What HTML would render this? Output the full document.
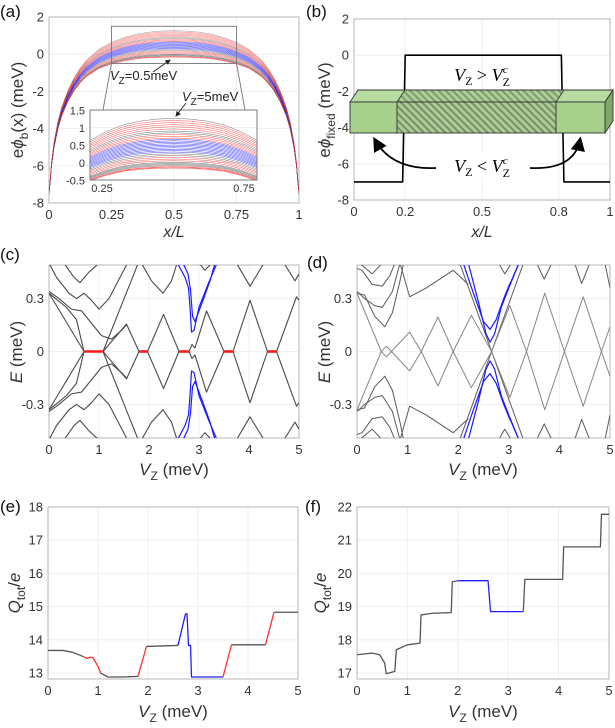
<!DOCTYPE html>
<html><head><meta charset="utf-8"><style>
html,body{margin:0;padding:0;background:#fff;}
svg{display:block;font-family:"Liberation Sans",sans-serif;}
</style></head><body>
<svg id="fig" width="615" height="728" viewBox="0 0 615 728" xmlns="http://www.w3.org/2000/svg">
<defs>
<pattern id="hatch" width="5" height="5" patternUnits="userSpaceOnUse" patternTransform="rotate(-45)">
<rect width="5" height="5" fill="#a9cf8e"/><rect width="2" height="5" fill="#7d8a73"/>
</pattern>
<clipPath id="clipA"><rect x="49" y="17" width="250" height="186"/></clipPath>
<clipPath id="clipIn"><rect x="90" y="110" width="167" height="70"/></clipPath>
<clipPath id="clipC"><rect x="49" y="265" width="250" height="173"/></clipPath>
<clipPath id="clipD"><rect x="357" y="265" width="253" height="173"/></clipPath>
<marker id="arrowhead" markerWidth="8" markerHeight="8" refX="6" refY="4" orient="auto"><path d="M0,0 L8,4 L0,8 z" fill="#000"/></marker>
<marker id="arrowsm" markerWidth="6" markerHeight="6" refX="5" refY="3" orient="auto"><path d="M0,0 L6,3 L0,6 z" fill="#222"/></marker>
</defs>
</svg>
<script>
// ---------- panel (a) data ----------
const phiX = [0,0.005,0.01,0.02,0.035,0.05,0.075,0.1,0.125,0.15,0.2,0.25,0.3,0.35,0.4,0.45,0.5];
const phiBase = [-7.5,-6.8,-6.0,-5.0,-4.0,-3.3,-2.5,-1.9,-1.45,-1.1,-0.65,-0.39,-0.22,-0.1,-0.04,-0.01,0];
const phiCenters = [1.26,1.2,1.14,1.08,1.02,0.96,0.9,0.85,0.8,0.75,0.7,0.66,0.62,0.58,0.54,0.5,0.46,0.42,0.38,0.34,0.3,0.25,0.2,0.15,0.1,0.05,0.0,-0.03,-0.06,-0.09,-0.12,-0.14,-0.16];
const phiColors = ['g','r','r','r','r','r','g','g','r','r','r','b','b','b','b','b','b','b','b','b','b','g','g','r','r','r','g','g','g','g','r','r','r'];
// ---------- panel (b) data ----------
const fixedX = [0,0.19,0.2,0.81,0.82,1];
const fixedY = [-7,-7,0,0,-7,-7];
// ---------- panel (c) data ----------
const cOsc = [[0,0.33],[0.35,0.25],[0.55,0.18],[0.7,0],[1.08,0],[1.55,0.155],[1.8,0],[1.97,0],[2.29,0.21],[2.6,0],[2.8,0],[2.86,0.04],[2.92,0.02],[3.15,0.23],[3.5,0],[3.68,0],[4.02,0.29],[4.37,0],[4.55,0],[4.95,0.31],[5,0.29]];
const cBands = [
 [[0,0.5],[0.15,0.42],[0.4,0.33],[0.55,0.3],[0.7,0.33],[0.85,0.29],[1.0,0.24],[1.2,0.3],[1.55,0.49]],
 [[0,0.34],[0.2,0.3],[0.45,0.24],[0.65,0.23],[0.85,0.16],[1.05,0.09],[1.25,0.07],[1.45,0.12],[1.55,0.15]],
 [[0.3,0.5],[0.5,0.42],[0.62,0.39],[0.8,0.45],[1.0,0.5]],
 [[1.08,0],[1.77,0.49]],
 [[0,-0.33],[0.7,0]],
 [[1.85,0.5],[2.05,0.4],[2.28,0.33],[2.45,0.4],[2.55,0.49]],
 [[3.0,0.5],[3.12,0.46],[3.25,0.5]],
 [[3.75,0.5],[4.02,0.37],[4.3,0.5]],
 [[4.7,0.5],[4.92,0.4],[5,0.44]]
];
const cBlue = [
 [[2.57,0.5],[2.72,0.42],[2.79,0.36],[2.82,0.25],[2.85,0.11],[2.9,0.12],[3.0,0.25],[3.18,0.38],[3.36,0.5]],
 [[2.68,0.5],[2.78,0.44],[2.83,0.35],[2.87,0.2],[2.92,0.17],[3.08,0.29],[3.22,0.4],[3.32,0.5]]
];
const cRedStart = [0.68,1.8,2.6,3.5,4.37];
const cRedEnd = [1.08,1.97,2.8,3.68,4.55];
// ---------- panel (d) data ----------
const dOsc = [[0,0.33],[0.48,0],[0.58,0.03],[0.68,0],[1.04,0.11],[1.27,0],[1.6,0.195],[1.9,0],[2.26,0.205],[2.66,0],[3.02,0.26],[3.35,0],[3.71,0.33],[4.1,0],[4.47,0.31],[4.83,0],[5,0.14]];
const dBands = [
 [[0,0.47],[0.1,0.46],[0.3,0.38],[0.5,0.37],[0.65,0.43],[0.75,0.5]],
 [[0,0.34],[0.15,0.3],[0.35,0.26],[0.5,0.25],[0.7,0.34],[0.85,0.5]],
 [[0,0.33],[0.15,0.32],[0.35,0.2],[0.55,0.14],[0.7,0.22],[0.85,0.4],[0.92,0.5]],
 [[0.05,0.5],[0.3,0.44],[0.5,0.5]],
 [[0.85,0.5],[1.04,0.31],[1.37,0.36],[1.9,0.46],[2.2,0.38]],
 [[2.03,0.5],[2.66,0],[3.29,-0.5]],
 [[2.8,0.5],[2.92,0.44],[3.05,0.5]],
 [[3.55,0.5],[3.7,0.41],[3.85,0.5]],
 [[4.3,0.5],[4.44,0.385],[4.6,0.5]],
 [[4.9,0.5],[5,0.36]]
];
const dBlue = [
 [[2.1,0.5],[2.3,0.33],[2.5,0.17],[2.63,0.125],[2.75,0.18],[2.9,0.3],[3.0,0.37],[3.05,0.4],[3.2,0.5]],
 [[2.2,0.5],[2.4,0.28],[2.55,0.1],[2.63,0.053],[2.72,0.1],[2.85,0.25],[3.0,0.36],[3.2,0.5]]
];
// ---------- panel (e) data ----------
const eSegColors = ['g','r','g','r','g','b','r','g','r','g'];
const eSegs = [
 [[0,13.68],[0.3,13.68],[0.5,13.62],[0.7,13.5]],
 [[0.7,13.5],[0.78,13.44],[0.85,13.48],[0.9,13.46],[1.0,13.2],[1.05,13.0]],
 [[1.05,13.0],[1.2,12.88],[1.5,12.88],[1.8,12.9]],
 [[1.8,12.9],[1.97,13.8]],
 [[1.97,13.8],[2.6,13.83]],
 [[2.6,13.83],[2.75,14.78],[2.78,14.78],[2.81,13.83],[2.85,13.83],[2.87,12.88],[3.5,12.88]],
 [[3.5,12.88],[3.67,13.85]],
 [[3.67,13.85],[4.35,13.85]],
 [[4.35,13.85],[4.52,14.83]],
 [[4.52,14.83],[5,14.83]]
];
// ---------- panel (f) data ----------
const fSegColors = ['g','b','g'];
const fSegs = [
 [[0,17.55],[0.3,17.6],[0.45,17.55],[0.55,17.3],[0.58,16.98],[0.75,17.05],[0.78,17.7],[1.0,17.85],[1.25,17.9],[1.27,18.75],[1.5,18.8],[1.87,18.82],[1.89,19.75],[2.0,19.78]],
 [[2.0,19.78],[2.6,19.78],[2.65,18.85],[3.3,18.85]],
 [[3.3,18.85],[3.33,19.82],[4.08,19.82],[4.1,20.8],[4.83,20.8],[4.85,21.78],[5,21.78]]
];
const xTicksA = [0,0.25,0.5,0.75,1], xTickLabA = ['0','0.25','0.5','0.75','1'];
const yTicksA = [2,0,-2,-4,-6,-8];
const xTicksB = [0,0.2,0.5,0.8,1], xTickLabB = ['0','0.2','0.5','0.8','1'];
const xTicksV = [0,1,2,3,4,5];
const yTicksE = [-0.3,0,0.3], yTickLabE = ['-0.3','0','0.3'];
const yTicksQe = [13,14,15,16,17,18];
const yTicksQf = [17,18,19,20,21,22];

const NS='http://www.w3.org/2000/svg';
const svg=document.getElementById('fig');
const COL={g:'#555555',r:'#ff3030',b:'#2020ff'};
function el(tag,attrs,parent){const e=document.createElementNS(NS,tag);for(const k in attrs)e.setAttribute(k,attrs[k]);(parent||svg).appendChild(e);return e;}
function scale(d0,d1,p0,p1){return v=>p0+(v-d0)/(d1-d0)*(p1-p0);}
function pathD(pts,sx,sy){return pts.map((p,i)=>(i?'L':'M')+sx(p[0]).toFixed(2)+','+sy(p[1]).toFixed(2)).join(' ');}

function axes(o){
  const sx=scale(o.xmin,o.xmax,o.x0,o.x1), sy=scale(o.ymin,o.ymax,o.y1,o.y0);
  const g=el('g',{});
  
  
  o.xt.forEach((t,i)=>{
    const gl=el('line',{x1:sx(t),x2:sx(t),y1:o.y0,y2:o.y1,stroke:'#ebebeb','stroke-width':0.8},g);
    
    
    const tx=el('text',{x:sx(t),y:o.y1+16,'text-anchor':'middle','font-size':13,fill:'#333'},g);
    
    
    tx.textContent=o.xl[i];
  });
  o.yt.forEach((t,i)=>{
    const gl=el('line',{x1:o.x0,x2:o.x1,y1:sy(t),y2:sy(t),stroke:'#ebebeb','stroke-width':0.8},g);
    
    
    const tx=el('text',{x:o.x0-5,y:sy(t)+4.5,'text-anchor':'end','font-size':13,fill:'#333'},g);
    
    
    tx.textContent=o.yl[i];
  });
  const box=el('rect',{x:o.x0,y:o.y0,width:o.x1-o.x0,height:o.y1-o.y0,fill:'none',stroke:'#b0b0b0','stroke-width':0.9},g);
  
  
  return {sx,sy,g};
}
function line(pts,A,color,w,name,parent,clip){
  const p=el('path',{d:pathD(pts,A.sx,A.sy),fill:'none',stroke:color,'stroke-width':w,'stroke-linejoin':'round'},parent||svg);
  if(clip)p.setAttribute('clip-path','url(#'+clip+')');
  
  
  return p;
}
function label(x,y,html,opts){
  const t=el('text',Object.assign({x:x,y:y,'font-size':15,fill:'#333'},opts||{}));
  t.innerHTML=html;
  return t;
}

// ---------- (a) ----------
const A=axes({name:'panel-a',x0:49,x1:299,y0:17,y1:203,xmin:0,xmax:1,ymin:-8,ymax:2,xt:xTicksA,xl:xTickLabA,yt:yTicksA,yl:yTicksA.map(String)});
function phiCurve(c){
  const pts=[];
  phiX.forEach((x,i)=>pts.push([x,phiBase[i]+c*Math.pow(Math.sin(Math.PI*x),0.6)]));
  for(let i=phiX.length-2;i>=0;i--)pts.push([1-phiX[i],phiBase[i]+c*Math.pow(Math.sin(Math.PI*phiX[i]),0.6)]);
  return pts;
}
const order=[...phiCenters.keys()].reverse();
order.forEach(i=>{ const p=line(phiCurve(phiCenters[i]),A,COL[phiColors[i]],0.4,'phi-curve',null,'clipA'); p.setAttribute('stroke-opacity',0.8); });
const zr=el('rect',{x:A.sx(0.25),y:A.sy(1.5),width:A.sx(0.75)-A.sx(0.25),height:A.sy(-0.5)-A.sy(1.5),fill:'none',stroke:'#777','stroke-width':0.9});


const zl1=el('line',{x1:A.sx(0.25),y1:A.sy(-0.5),x2:103,y2:110,stroke:'#777','stroke-width':0.9});


const zl2=el('line',{x1:A.sx(0.75),y1:A.sy(-0.5),x2:245,y2:110,stroke:'#777','stroke-width':0.9});


const inBg=el('rect',{x:90,y:110,width:167,height:70,fill:'#fff'});


const I=axes({name:'inset',x0:90,x1:257,y0:110,y1:180,xmin:0.25,xmax:0.75,ymin:-0.5,ymax:1.5,xt:[0.25,0.5,0.75],xl:['0.25','',' 0.75'],yt:[1.5,1,0.5,0,-0.5],yl:['1.5','1','0.5','0','-0.5']});
[...I.g.querySelectorAll('text')].forEach(t=>t.setAttribute('font-size',11));
[...I.g.querySelectorAll('text')].slice(0,3).forEach(t=>{t.setAttribute('y',192);});
I.g.querySelectorAll('text')[0].setAttribute('x',102);
I.g.querySelectorAll('text')[2].setAttribute('x',244);
order.forEach(i=>{ const p=line(phiCurve(phiCenters[i]),I,COL[phiColors[i]],0.5,'inset-phi-curve',null,'clipIn'); p.setAttribute('stroke-opacity',0.85); });
const ib=el('rect',{x:90,y:110,width:167,height:70,fill:'none',stroke:'#777','stroke-width':0.9});


let t;
t=label(110,80,'<tspan font-style="italic">V</tspan><tspan font-size="10" dy="4">Z</tspan><tspan dy="-4">=0.5meV</tspan>',{'font-size':13,fill:'#222'});


let ar=el('line',{x1:153,y1:72,x2:170,y2:60,stroke:'#222','stroke-width':0.9,'marker-end':'url(#arrowsm)'});


t=label(182,101,'<tspan font-style="italic">V</tspan><tspan font-size="10" dy="4">Z</tspan><tspan dy="-4">=5meV</tspan>',{'font-size':13,fill:'#222'});


ar=el('line',{x1:186,y1:103,x2:176,y2:116,stroke:'#222','stroke-width':0.9,'marker-end':'url(#arrowsm)'});



// ---------- (b) ----------
const B=axes({name:'panel-b',x0:354,x1:610,y0:19,y1:200,xmin:0,xmax:1,ymin:-8,ymax:2,xt:xTicksB,xl:xTickLabB,yt:yTicksA,yl:yTicksA.map(String)});
line(fixedX.map((x,i)=>[x,fixedY[i]]),B,'#000',1.6,'fixed-potential-line');
(function(){
  const g=el('g',{});
  
  
  const st={stroke:'#333','stroke-width':0.9};
  let p=el('polygon',Object.assign({points:'350,102 358,90 613,90 605,102',fill:'#b7dba0'},st),g);
  
  
  p=el('polygon',Object.assign({points:'397,102 405,90 564,90 556,102',fill:'url(#hatch)','fill-opacity':0.85},st),g);
  
  
  p=el('polygon',Object.assign({points:'605,102 613,90 613,121 605,133',fill:'#7fa86a'},st),g);
  
  
  p=el('rect',Object.assign({x:350,y:102,width:47,height:31,fill:'#a6d08b'},st),g);
  
  
  p=el('rect',Object.assign({x:397,y:102,width:159,height:31,fill:'url(#hatch)'},st),g);
  
  
  p=el('rect',Object.assign({x:556,y:102,width:49,height:31,fill:'#a6d08b'},st),g);
  
  
})();
t=label(482,81,'<tspan font-style="italic">V</tspan><tspan font-size="12" dy="4">Z</tspan><tspan dy="-4"> &gt; </tspan><tspan font-style="italic">V</tspan><tspan font-size="12" dy="5">Z</tspan><tspan font-size="11" font-style="italic" dx="-7" dy="-13">c</tspan>',{'font-size':18,'text-anchor':'middle',fill:'#000','font-family':'"Liberation Serif",serif'});


let rb=el('rect',{x:430,y:152,width:104,height:26,fill:'#fff'});


ar=el('path',{d:'M436,168 Q392,170 375,140',fill:'none',stroke:'#000','stroke-width':1.8,'marker-end':'url(#arrowhead)'});


ar=el('path',{d:'M530,168 Q574,170 580,140',fill:'none',stroke:'#000','stroke-width':1.8,'marker-end':'url(#arrowhead)'});


t=label(482,172,'<tspan font-style="italic">V</tspan><tspan font-size="12" dy="4">Z</tspan><tspan dy="-4"> &lt; </tspan><tspan font-style="italic">V</tspan><tspan font-size="12" dy="5">Z</tspan><tspan font-size="11" font-style="italic" dx="-7" dy="-13">c</tspan>',{'font-size':18,'text-anchor':'middle',fill:'#000','font-family':'"Liberation Serif",serif'});



// ---------- (c) ----------
const C=axes({name:'panel-c',x0:49,x1:299,y0:265,y1:438,xmin:0,xmax:5,ymin:-0.49,ymax:0.49,xt:xTicksV,xl:xTicksV.map(String),yt:yTicksE,yl:yTickLabE});
const mir=pts=>pts.map(p=>[p[0],-p[1]]);
cBands.forEach(b=>{line(b,C,'#4a4a4a',1.1,'band-line',null,'clipC');line(mir(b),C,'#4a4a4a',1.1,'band-line',null,'clipC');});
line(cOsc,C,'#4a4a4a',1.1,'majorana-band',null,'clipC');line(mir(cOsc),C,'#4a4a4a',1.1,'majorana-band',null,'clipC');
cBlue.forEach(b=>{line(b,C,'#1a1aff',1.2,'blue-band',null,'clipC');line(mir(b),C,'#1a1aff',1.2,'blue-band',null,'clipC');});
cRedStart.forEach((s,i)=>{line([[s,0],[cRedEnd[i],0]],C,'#ff1a1a',2.6,'zero-mode-segment',null,'clipC');});

// ---------- (d) ----------
const D=axes({name:'panel-d',x0:357,x1:610,y0:265,y1:438,xmin:0,xmax:5,ymin:-0.49,ymax:0.49,xt:xTicksV,xl:xTicksV.map(String),yt:yTicksE,yl:yTickLabE});
dBands.forEach(b=>{line(b,D,'#5a5a5a',1.0,'band-line',null,'clipD');line(mir(b),D,'#5a5a5a',1.0,'band-line',null,'clipD');});
line(dOsc,D,'#858585',1.0,'oscillating-band',null,'clipD');line(mir(dOsc),D,'#858585',1.0,'oscillating-band',null,'clipD');
dBlue.forEach(b=>{line(b,D,'#1a1aff',1.2,'blue-band',null,'clipD');line(mir(b),D,'#1a1aff',1.2,'blue-band',null,'clipD');});

// ---------- (e) ----------
const E=axes({name:'panel-e',x0:48,x1:298,y0:507,y1:679,xmin:0,xmax:5,ymin:12.82,ymax:18,xt:xTicksV,xl:xTicksV.map(String),yt:yTicksQe,yl:yTicksQe.map(String)});
eSegs.forEach((s,i)=>line(s,E,eSegColors[i]==='g'?'#555':COL[eSegColors[i]],1.3,'charge-segment'));
// ---------- (f) ----------
const F=axes({name:'panel-f',x0:357,x1:609,y0:507,y1:679,xmin:0,xmax:5,ymin:16.82,ymax:22,xt:xTicksV,xl:xTicksV.map(String),yt:yTicksQf,yl:yTicksQf.map(String)});
fSegs.forEach((s,i)=>line(s,F,fSegColors[i]==='g'?'#555':COL[fSegColors[i]],1.3,'charge-segment'));

// ---------- labels ----------
const panelLabels=[['(a)',0,17],['(b)',306,17],['(c)',0,260],['(d)',307,268],['(e)',0,512],['(f)',305,512]];
panelLabels.forEach(p=>{const tt=label(p[1],p[2],p[0],{'font-size':17,fill:'#111'});

});
const xl=[[174,237,'xl'],[482,237,'xl']];
xl.forEach(p=>{const tt=label(p[0],p[1],'x/L',{'font-size':16,'font-style':'italic','text-anchor':'middle'});

});
const vzPos=[[174,475],[483,475],[173,717],[483,717]];
vzPos.forEach(p=>{const tt=label(p[0],p[1],'<tspan font-style="italic">V</tspan><tspan font-size="12" dy="5">Z</tspan><tspan dy="-5"> (meV)</tspan>',{'font-size':17,'text-anchor':'middle'});

});
function ylab(x,y,html,name){const tt=label(0,0,html,{'font-size':17,'text-anchor':'middle',transform:'translate('+x+','+y+') rotate(-90)'});

}
ylab(23,110,'e<tspan font-style="italic">ϕ</tspan><tspan font-size="12" dy="5">b</tspan><tspan dy="-5">(x) (meV)</tspan>','y-axis-title-a');
ylab(330,110,'e<tspan font-style="italic">ϕ</tspan><tspan font-size="12" dy="5">fixed</tspan><tspan dy="-5"> (meV)</tspan>','y-axis-title-b');
ylab(22,352,'<tspan font-style="italic">E</tspan> (meV)','y-axis-title-c');
ylab(330,352,'<tspan font-style="italic">E</tspan> (meV)','y-axis-title-d');
ylab(20,593,'<tspan font-style="italic">Q</tspan><tspan font-size="12" dy="5">tot</tspan><tspan dy="-5">/</tspan><tspan font-style="italic">e</tspan>','y-axis-title-e');
ylab(326,593,'<tspan font-style="italic">Q</tspan><tspan font-size="12" dy="5">tot</tspan><tspan dy="-5">/</tspan><tspan font-style="italic">e</tspan>','y-axis-title-f');
</script>
</body></html>
